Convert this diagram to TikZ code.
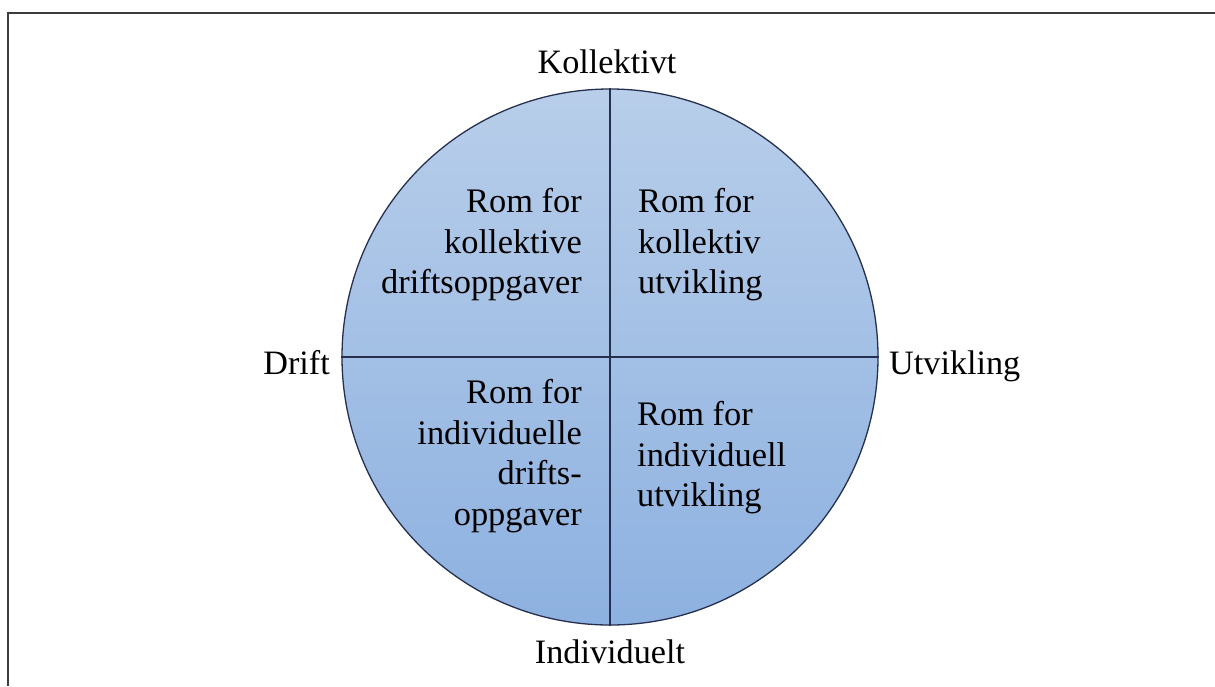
\documentclass[tikz,border=0pt]{standalone}
\usepackage{fontspec}
\setmainfont{Liberation Serif}
\usetikzlibrary{positioning}
\definecolor{discTop}{RGB}{184,206,234}
\definecolor{discBottom}{RGB}{141,177,224}
\definecolor{discLine}{RGB}{38,48,78}
\definecolor{frameGray}{RGB}{60,60,60}

\tikzset{
  quadtext/.style={inner sep=0pt, font=\fontsize{34.4}{40.5}\selectfont},
  axislabel/.style={inner sep=0pt, font=\fontsize{34.2}{40.5}\selectfont},
}

\begin{document}
\begin{tikzpicture}[x=1pt,y=-1pt]
  \useasboundingbox (0,0) rectangle (1215,686);
  % frame (top and left edges only)
  \draw[line width=2pt,frameGray] (8,686) -- (8,13) -- (1215,13);
  % disc
  \node[circle,minimum size=536pt,inner sep=0pt,draw=discLine,line width=1.3pt,
        top color=discTop,bottom color=discBottom] (disc) at (610,357) {};
  \draw[discLine,line width=1.3pt] (disc.north) -- (disc.south);
  \draw[discLine,line width=1.3pt] (disc.west) -- (disc.east);
  % axis labels
  \node[axislabel,anchor=base] (kollektivt) at (607,73) {Kollektivt};
  \node[axislabel,anchor=base] (individuelt) at (610,663) {Individuelt};
  \node[axislabel,anchor=base east] (drift) at (330,374) {Drift};
  \node[axislabel,anchor=base west] (utvikling) at (889,374) {Utvikling};
  % quadrant texts
  \node[quadtext,align=right,anchor=east] (ql) at (582,245)
    {Rom for\\kollektive\\driftsoppgaver};
  \node[quadtext,align=left,anchor=west] (qr) at (638,245)
    {Rom for\\kollektiv\\utvikling};
  \node[quadtext,align=right,anchor=east] (bl) at (582,456)
    {Rom for\\individuelle\\drifts-\\oppgaver};
  \node[quadtext,align=left,anchor=west] (br) at (637,458)
    {Rom for\\individuell\\utvikling};
\end{tikzpicture}
\end{document}
